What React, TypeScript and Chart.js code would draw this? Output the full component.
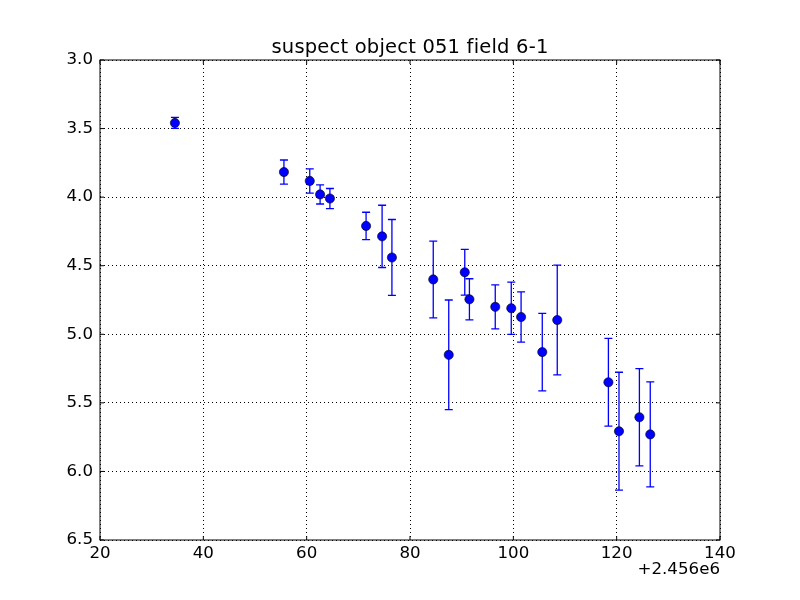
import React, { useEffect, useRef } from "react";
import { Chart, registerables } from "chart.js";

Chart.register(...registerables);

const X_OFFSET = 2456000;
const OFFSET_LABEL = "+2.456e6";
const TITLE = "suspect object 051 field 6-1";

// Julian dates (full values)
const jd = [
  2456034.5, 2456055.6, 2456060.6, 2456062.6, 2456064.5, 2456071.5, 2456074.6,
  2456076.5, 2456084.5, 2456087.5, 2456090.6, 2456091.5, 2456096.5, 2456099.6,
  2456101.5, 2456105.6, 2456108.5, 2456118.4, 2456120.45, 2456124.4, 2456126.5,
];
const mag = [
  3.459, 3.817, 3.882, 3.98, 4.01, 4.21, 4.286, 4.44, 4.6, 5.15, 4.548, 4.745,
  4.8, 4.81, 4.874, 5.13, 4.896, 5.35, 5.707, 5.605, 5.73,
];
const magErr = [
  0.04, 0.088, 0.088, 0.07, 0.073, 0.1, 0.227, 0.277, 0.28, 0.4, 0.167, 0.15,
  0.16, 0.19, 0.183, 0.283, 0.4, 0.32, 0.43, 0.354, 0.383,
];

const xTicksMin = 20;
const xTicksMax = 140;
const xStep = 20;
const yMin = 3.0;
const yMax = 6.5;
const yStep = 0.5;

const FONT = "DejaVu Sans";

const errorBarPlugin = {
  id: "errorBars",
  beforeDatasetsDraw(chart: any) {
    const { ctx, chartArea, scales } = chart;
    const xs = scales.x;
    const ys = scales.y;
    ctx.save();
    ctx.beginPath();
    ctx.rect(chartArea.left, chartArea.top, chartArea.width, chartArea.height);
    ctx.clip();
    ctx.strokeStyle = "#0000ff";
    ctx.lineWidth = 1.3;
    const cap = 4;
    for (let i = 0; i < jd.length; i++) {
      const px = xs.getPixelForValue(jd[i]);
      const y1 = ys.getPixelForValue(mag[i] - magErr[i]);
      const y2 = ys.getPixelForValue(mag[i] + magErr[i]);
      ctx.beginPath();
      ctx.moveTo(px, y1);
      ctx.lineTo(px, y2);
      ctx.moveTo(px - cap, y1);
      ctx.lineTo(px + cap, y1);
      ctx.moveTo(px - cap, y2);
      ctx.lineTo(px + cap, y2);
      ctx.stroke();
    }
    ctx.restore();
  },
  afterDraw(chart: any) {
    const { ctx, chartArea, scales } = chart;
    const { left, right, top, bottom } = chartArea;
    ctx.save();
    ctx.strokeStyle = "#000";
    ctx.lineWidth = 1;
    ctx.strokeRect(left, top, right - left, bottom - top);
    const tl = 4;
    ctx.beginPath();
    scales.x.ticks.forEach((t: any) => {
      const px = scales.x.getPixelForValue(t.value);
      ctx.moveTo(px, bottom);
      ctx.lineTo(px, bottom - tl);
      ctx.moveTo(px, top);
      ctx.lineTo(px, top + tl);
    });
    scales.y.ticks.forEach((t: any) => {
      const py = scales.y.getPixelForValue(t.value);
      ctx.moveTo(left, py);
      ctx.lineTo(left + tl, py);
      ctx.moveTo(right, py);
      ctx.lineTo(right - tl, py);
    });
    ctx.stroke();
    ctx.fillStyle = "#000";
    ctx.font = `16.67px "${FONT}"`;
    ctx.textAlign = "right";
    ctx.textBaseline = "alphabetic";
    ctx.fillText(OFFSET_LABEL, right, bottom + 34);
    ctx.font = `19.5px "${FONT}"`;
    ctx.textAlign = "center";
    try {
      (ctx as any).letterSpacing = "0.2px";
    } catch (e) {}
    ctx.fillText(TITLE, (left + right) / 2, top - 7);
    ctx.restore();
  },
};

export default function App() {
  const ref = useRef<HTMLCanvasElement | null>(null);
  useEffect(() => {
    if (!ref.current) return;
    const chart = new Chart(ref.current, {
      type: "scatter",
      data: {
        datasets: [
          {
            data: jd.map((x, i) => ({ x, y: mag[i] })),
            pointRadius: 4.6,
            pointHoverRadius: 4.6,
            backgroundColor: "#0000ff",
            borderColor: "#000",
            borderWidth: 0.6,
          },
        ],
      },
      options: {
        responsive: false,
        animation: false,
        events: [],
        layout: { padding: { left: 0, right: 80, top: 60, bottom: 0 } },
        font: { family: FONT },
        plugins: {
          legend: { display: false },
          tooltip: { enabled: false },
          title: { display: false },
        },
        scales: {
          x: {
            type: "linear",
            min: X_OFFSET + xTicksMin,
            max: X_OFFSET + xTicksMax,
            afterFit: (s: any) => {
              s.height = 60;
            },
            afterBuildTicks: (s: any) => {
              const t = [];
              for (let v = xTicksMin; v <= xTicksMax; v += xStep) t.push({ value: X_OFFSET + v });
              s.ticks = t;
            },
            ticks: {
              color: "#000",
              font: { family: FONT, size: 16.67 },
              padding: 4,
              maxRotation: 0,
              callback: (v: any) => String(Math.round(Number(v) - X_OFFSET)),
            },
            grid: { color: "#000", lineWidth: 1, drawTicks: false },
            border: { display: false, dash: [1, 3] },
          },
          y: {
            type: "linear",
            min: yMin,
            max: yMax,
            reverse: true,
            afterFit: (s: any) => {
              s.width = 100;
            },
            ticks: {
              stepSize: yStep,
              color: "#000",
              font: { family: FONT, size: 16.67 },
              padding: 7,
              callback: (v: any) => Number(v).toFixed(1),
            },
            grid: { color: "#000", lineWidth: 1, drawTicks: false },
            border: { display: false, dash: [1, 3] },
          },
        },
      },
      plugins: [errorBarPlugin],
    });
    return () => chart.destroy();
  }, []);
  return (
    <div style={{ position: "fixed", left: 0, top: 0, width: 800, height: 600, background: "#fff" }}>
      <canvas ref={ref} width={800} height={600} style={{ width: 800, height: 600 }} />
    </div>
  );
}
